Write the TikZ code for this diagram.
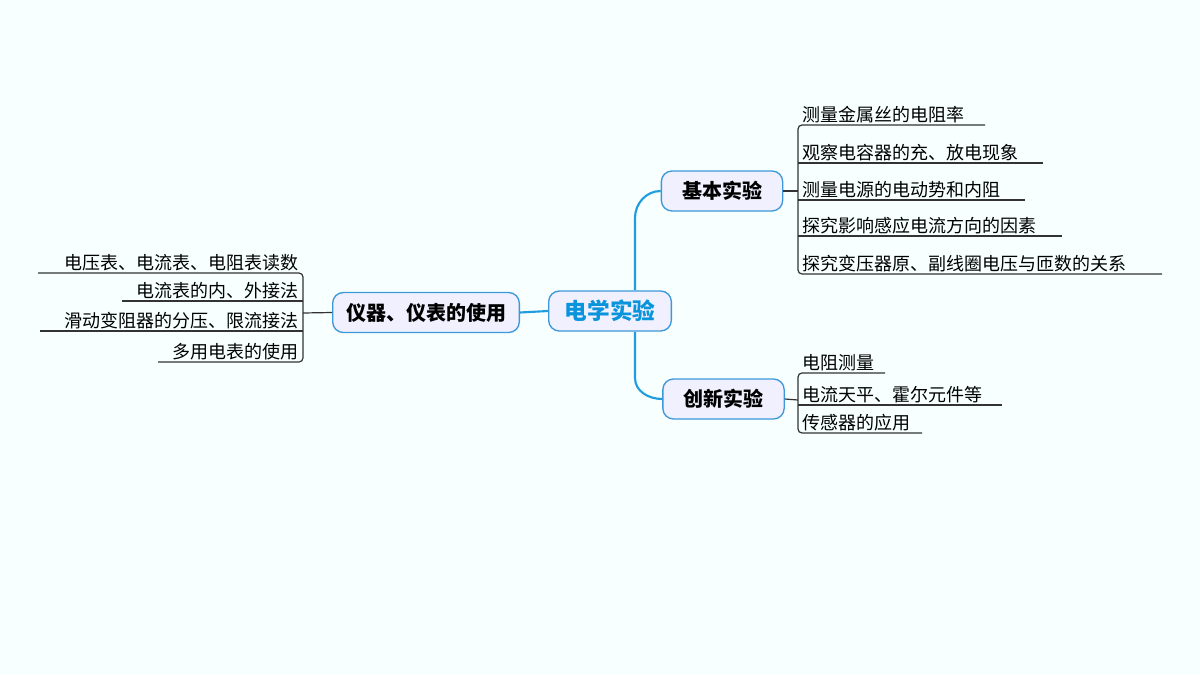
\documentclass[tikz,border=0pt]{standalone}
\usepackage{fontspec}
\setmainfont{Noto Sans CJK SC}
\begin{document}
\begin{tikzpicture}[x=0.75pt,y=-0.75pt,
  topic/.style={draw=cyan!70!blue!80, line width=1pt, fill=blue!6, rounded corners=8pt, minimum height=30pt, inner sep=3pt, font=\fontsize{15}{16}\selectfont\bfseries},
  leaf/.style={inner sep=1.5pt, font=\fontsize{13.5}{15}\selectfont},
  ul/.style={line width=0.9pt, black!80},
  br/.style={line width=1.6pt, color=cyan!80!blue!90}]
\fill[green!3!cyan!3] (0,0) rectangle (1200,675);
\useasboundingbox (0,0) rectangle (1200,675);
% nodes
\node[topic, minimum width=92pt, text=cyan!80!blue, font=\fontsize{17}{18}\selectfont\bfseries] (c) at (610,311) {电学实验};
\node[topic, minimum width=140pt] (y) at (426,312.5) {仪器、仪表的使用};
\node[topic, minimum width=91pt] (j) at (722,191) {基本实验};
\node[topic, minimum width=91pt] (x) at (723.5,399) {创新实验};
% branches
\draw[br] (c.west) -- (y.east);
\coordinate (jt) at (635,290);
\draw[br] (jt) -- (635,218) to[out=90,in=180] (j.west);
\coordinate (xb) at (635,332);
\draw[br] (xb) -- (635,378) to[out=-90,in=180] (x.west);
% left leaves
\coordinate (lb) at (303,313);
\draw[ul] (y.west) -- (lb);
\draw[ul] (38,273) -- (299,273) to[out=0,in=90] (303,277) -- (303,358) to[out=-90,in=0] (299,362) -- (158,362);
\draw[ul] (122,301) -- (303,301);
\draw[ul] (40,331) -- (303,331);
\node[leaf, anchor=south east] (l1) at (301,273) {电压表、电流表、电阻表读数};
\node[leaf, anchor=south east] (l2) at (301,301) {电流表的内、外接法};
\node[leaf, anchor=south east] (l3) at (301,331) {滑动变阻器的分压、限流接法};
\node[leaf, anchor=south east] (l4) at (301,362) {多用电表的使用};
% right leaves (basic)
\coordinate (rb) at (798,191);
\draw[ul] (j.east) -- (rb);
\draw[ul] (985,125) -- (802,125) to[out=180,in=90] (798,129) -- (798,270) to[out=-90,in=180] (802,274) -- (1162,274);
\draw[ul] (798,163) -- (1043,163);
\draw[ul] (798,200) -- (1025,200);
\draw[ul] (798,236) -- (1062,236);
\node[leaf, anchor=south west] (r1) at (800,125) {测量金属丝的电阻率};
\node[leaf, anchor=south west] (r2) at (800,163) {观察电容器的充、放电现象};
\node[leaf, anchor=south west] (r3) at (800,200) {测量电源的电动势和内阻};
\node[leaf, anchor=south west] (r4) at (800,236) {探究影响感应电流方向的因素};
\node[leaf, anchor=south west] (r5) at (800,274) {探究变压器原、副线圈电压与匝数的关系};
% right leaves (innovative)
\coordinate (rx) at (798,400);
\draw[ul] (x.east) -- (rx);
\draw[ul] (885,373) -- (802,373) to[out=180,in=90] (798,377) -- (798,429) to[out=-90,in=180] (802,433) -- (922,433);
\draw[ul] (798,405) -- (1002,405);
\node[leaf, anchor=south west] (s1) at (800,373) {电阻测量};
\node[leaf, anchor=south west] (s2) at (800,405) {电流天平、霍尔元件等};
\node[leaf, anchor=south west] (s3) at (800,433) {传感器的应用};
\end{tikzpicture}
\end{document}
